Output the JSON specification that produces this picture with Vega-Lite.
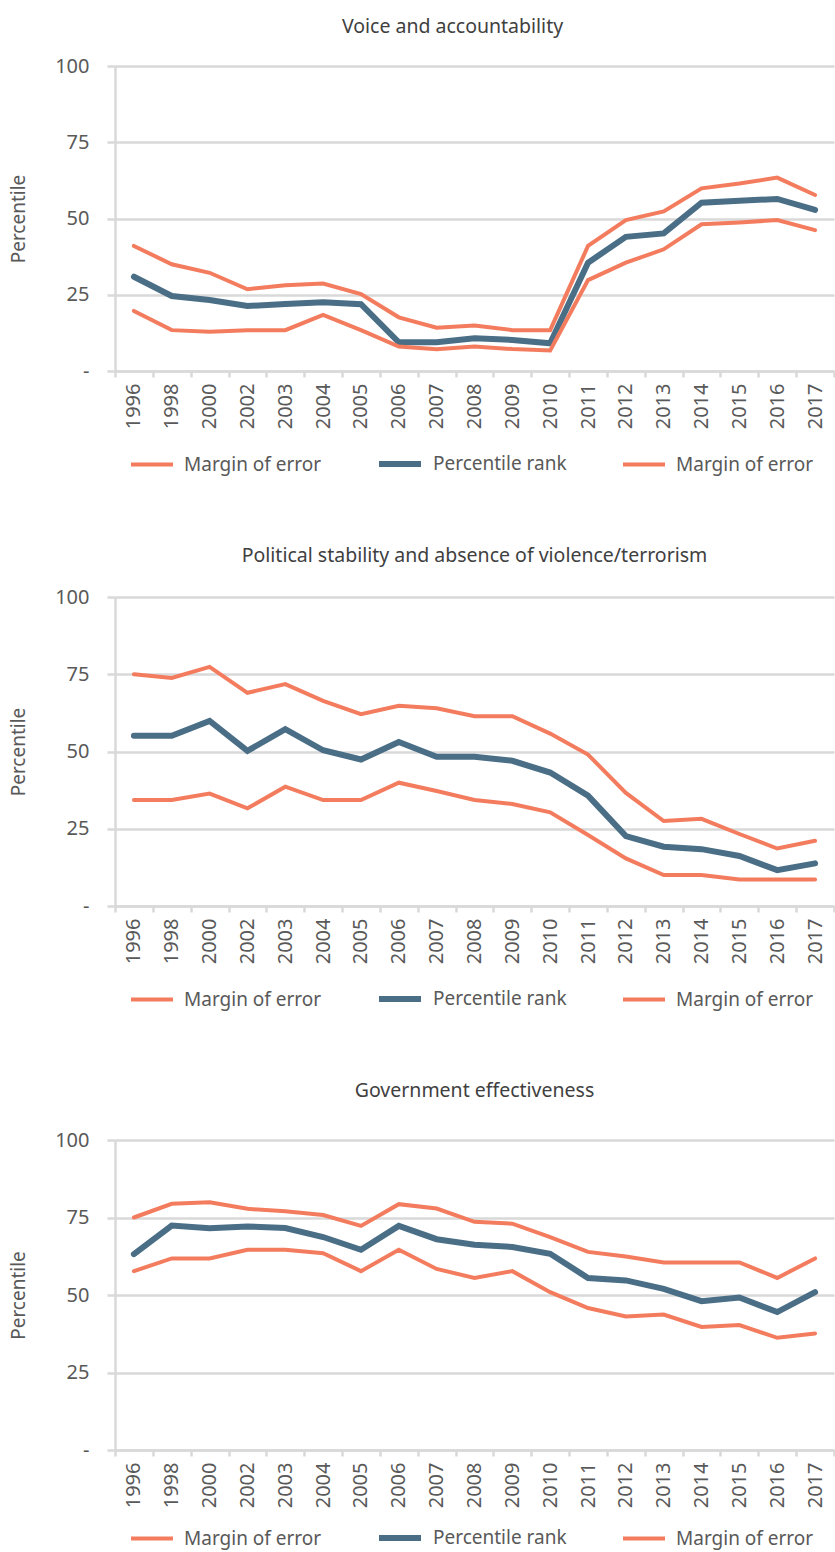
{
  "$schema": "https://vega.github.io/schema/vega-lite/v6.json",
  "padding": {"left": 9, "right": 0, "top": 16, "bottom": 0},
  "background": "white",
  "config": {
    "font": "Noto Sans",
    "view": {"stroke": null},
    "axis": {
      "domainColor": "#d9d9d9", "domainWidth": 2.5,
      "tickColor": "#d9d9d9", "tickWidth": 2.5,
      "gridColor": "#d9d9d9", "gridWidth": 2.5,
      "labelColor": "#595959", "labelFontSize": 20, "labelFont": "Noto Sans",
      "titleColor": "#595959", "titleFontSize": 19, "titleFontWeight": "normal", "titleFont": "Noto Sans"
    },
    "legend": {
      "orient": "bottom", "direction": "horizontal", "title": null,
      "symbolType": "stroke", "symbolSize": 1764, "symbolStrokeWidth": 6, "symbolOffset": 14,
      "labelFontSize": 19, "labelColor": "#595959", "labelFont": "Noto Sans",
      "labelOffset": 9, "columnPadding": 40, "padding": 0, "offset": 11
    },
    "title": {"fontSize": 19.5, "fontWeight": "normal", "color": "#404040", "font": "Noto Sans", "offset": 19, "anchor": "middle"}
  },
  "datasets": {
    "d": [
      {"panel":"A","year":"1996","hi":41.0,"rank":30.9,"lo":19.7},
      {"panel":"A","year":"1998","hi":35.0,"rank":24.6,"lo":13.4},
      {"panel":"A","year":"2000","hi":32.2,"rank":23.3,"lo":12.9},
      {"panel":"A","year":"2002","hi":26.8,"rank":21.3,"lo":13.4},
      {"panel":"A","year":"2003","hi":28.1,"rank":22.0,"lo":13.4},
      {"panel":"A","year":"2004","hi":28.7,"rank":22.5,"lo":18.4},
      {"panel":"A","year":"2005","hi":25.2,"rank":21.9,"lo":13.4},
      {"panel":"A","year":"2006","hi":17.6,"rank":9.4,"lo":8.0},
      {"panel":"A","year":"2007","hi":14.2,"rank":9.4,"lo":7.1},
      {"panel":"A","year":"2008","hi":14.9,"rank":10.7,"lo":8.0},
      {"panel":"A","year":"2009","hi":13.4,"rank":10.2,"lo":7.2},
      {"panel":"A","year":"2010","hi":13.4,"rank":9.1,"lo":6.7},
      {"panel":"A","year":"2011","hi":41.0,"rank":35.5,"lo":29.8},
      {"panel":"A","year":"2012","hi":49.5,"rank":44.0,"lo":35.5},
      {"panel":"A","year":"2013","hi":52.3,"rank":45.1,"lo":39.9},
      {"panel":"A","year":"2014","hi":59.9,"rank":55.2,"lo":48.1},
      {"panel":"A","year":"2015","hi":61.5,"rank":55.8,"lo":48.7},
      {"panel":"A","year":"2016","hi":63.4,"rank":56.4,"lo":49.5},
      {"panel":"A","year":"2017","hi":57.7,"rank":52.8,"lo":46.2},
      {"panel":"B","year":"1996","hi":75.0,"rank":55.1,"lo":34.3},
      {"panel":"B","year":"1998","hi":73.8,"rank":55.1,"lo":34.3},
      {"panel":"B","year":"2000","hi":77.4,"rank":59.9,"lo":36.4},
      {"panel":"B","year":"2002","hi":69.0,"rank":50.2,"lo":31.6},
      {"panel":"B","year":"2003","hi":71.8,"rank":57.2,"lo":38.6},
      {"panel":"B","year":"2004","hi":66.4,"rank":50.4,"lo":34.3},
      {"panel":"B","year":"2005","hi":62.1,"rank":47.4,"lo":34.3},
      {"panel":"B","year":"2006","hi":64.8,"rank":53.1,"lo":39.9},
      {"panel":"B","year":"2007","hi":64.0,"rank":48.3,"lo":37.2},
      {"panel":"B","year":"2008","hi":61.4,"rank":48.3,"lo":34.3},
      {"panel":"B","year":"2009","hi":61.4,"rank":47.0,"lo":33.0},
      {"panel":"B","year":"2010","hi":55.8,"rank":43.2,"lo":30.3},
      {"panel":"B","year":"2011","hi":49.0,"rank":35.7,"lo":23.0},
      {"panel":"B","year":"2012","hi":36.6,"rank":22.6,"lo":15.4},
      {"panel":"B","year":"2013","hi":27.5,"rank":19.2,"lo":10.0},
      {"panel":"B","year":"2014","hi":28.2,"rank":18.4,"lo":10.0},
      {"panel":"B","year":"2015","hi":23.3,"rank":16.2,"lo":8.6},
      {"panel":"B","year":"2016","hi":18.6,"rank":11.6,"lo":8.6},
      {"panel":"B","year":"2017","hi":21.1,"rank":13.8,"lo":8.6},
      {"panel":"C","year":"1996","hi":75.0,"rank":63.2,"lo":57.7},
      {"panel":"C","year":"1998","hi":79.4,"rank":72.4,"lo":61.8},
      {"panel":"C","year":"2000","hi":79.9,"rank":71.5,"lo":61.8},
      {"panel":"C","year":"2002","hi":77.8,"rank":72.1,"lo":64.6},
      {"panel":"C","year":"2003","hi":77.0,"rank":71.6,"lo":64.6},
      {"panel":"C","year":"2004","hi":75.8,"rank":68.7,"lo":63.5},
      {"panel":"C","year":"2005","hi":72.3,"rank":64.6,"lo":57.7},
      {"panel":"C","year":"2006","hi":79.3,"rank":72.3,"lo":64.6},
      {"panel":"C","year":"2007","hi":77.9,"rank":68.0,"lo":58.4},
      {"panel":"C","year":"2008","hi":73.6,"rank":66.2,"lo":55.5},
      {"panel":"C","year":"2009","hi":73.0,"rank":65.5,"lo":57.7},
      {"panel":"C","year":"2010","hi":68.7,"rank":63.3,"lo":50.9},
      {"panel":"C","year":"2011","hi":63.9,"rank":55.5,"lo":45.8},
      {"panel":"C","year":"2012","hi":62.4,"rank":54.7,"lo":43.1},
      {"panel":"C","year":"2013","hi":60.5,"rank":52.0,"lo":43.7},
      {"panel":"C","year":"2014","hi":60.5,"rank":48.0,"lo":39.7},
      {"panel":"C","year":"2015","hi":60.5,"rank":49.2,"lo":40.3},
      {"panel":"C","year":"2016","hi":55.5,"rank":44.5,"lo":36.2},
      {"panel":"C","year":"2017","hi":61.8,"rank":50.9,"lo":37.6}
    ]
  },
  "spacing": 69,
  "resolve": {"scale": {"color": "independent", "strokeWidth": "independent"}, "legend": {"color": "independent"}},
  "vconcat": [
    {
      "title": {"text": "Voice and accountability", "dx": -22},
      "width": 719, "height": 305,
      "data": {"name": "d"},
      "transform": [{"filter": "datum.panel === 'A'"}, {"fold": ["hi", "rank", "lo"], "as": ["series", "value"]}],
      "mark": {"type": "line", "strokeCap": "round"},
      "encoding": {
        "x": {"field": "year", "type": "ordinal", "scale": {"type": "band", "paddingInner": 0, "paddingOuter": 0},
              "axis": {"title": null, "labelAngle": 270, "labelAlign": "right", "labelBaseline": "middle", "tickBand": "extent", "tickSize": 6, "labelPadding": 6, "grid": false}},
        "y": {"field": "value", "type": "quantitative", "scale": {"domain": [0, 100], "nice": false},
              "axis": {"title": "Percentile", "values": [0, 25, 50, 75, 100], "labelExpr": "datum.value === 0 ? '-' : datum.label", "tickSize": 8, "labelPadding": 18, "titlePadding": 26, "grid": true}},
        "color": {"field": "series", "type": "nominal", "scale": {"domain": ["hi", "rank", "lo"], "range": ["#F47C5E", "#4A6E86", "#F47C5E"]},
                  "legend": {"labelExpr": "datum.value === 'rank' ? 'Percentile rank' : 'Margin of error'"}},
        "strokeWidth": {"field": "series", "type": "nominal", "scale": {"type": "ordinal", "domain": ["hi", "rank", "lo"], "range": [4, 6, 4]}, "legend": null}
      }
    },
    {
      "title": {"text": "Political stability and absence of violence/terrorism", "offset": 21},
      "width": 719, "height": 309,
      "data": {"name": "d"},
      "transform": [{"filter": "datum.panel === 'B'"}, {"fold": ["hi", "rank", "lo"], "as": ["series", "value"]}],
      "mark": {"type": "line", "strokeCap": "round"},
      "encoding": {
        "x": {"field": "year", "type": "ordinal", "scale": {"type": "band", "paddingInner": 0, "paddingOuter": 0},
              "axis": {"title": null, "labelAngle": 270, "labelAlign": "right", "labelBaseline": "middle", "tickBand": "extent", "tickSize": 6, "labelPadding": 6, "grid": false}},
        "y": {"field": "value", "type": "quantitative", "scale": {"domain": [0, 100], "nice": false},
              "axis": {"title": "Percentile", "values": [0, 25, 50, 75, 100], "labelExpr": "datum.value === 0 ? '-' : datum.label", "tickSize": 8, "labelPadding": 18, "titlePadding": 26, "grid": true}},
        "color": {"field": "series", "type": "nominal", "scale": {"domain": ["hi", "rank", "lo"], "range": ["#F47C5E", "#4A6E86", "#F47C5E"]},
                  "legend": {"labelExpr": "datum.value === 'rank' ? 'Percentile rank' : 'Margin of error'"}},
        "strokeWidth": {"field": "series", "type": "nominal", "scale": {"type": "ordinal", "domain": ["hi", "rank", "lo"], "range": [4, 6, 4]}, "legend": null}
      }
    },
    {
      "title": {"text": "Government effectiveness", "offset": 29},
      "width": 719, "height": 310,
      "data": {"name": "d"},
      "transform": [{"filter": "datum.panel === 'C'"}, {"fold": ["hi", "rank", "lo"], "as": ["series", "value"]}],
      "mark": {"type": "line", "strokeCap": "round"},
      "encoding": {
        "x": {"field": "year", "type": "ordinal", "scale": {"type": "band", "paddingInner": 0, "paddingOuter": 0},
              "axis": {"title": null, "labelAngle": 270, "labelAlign": "right", "labelBaseline": "middle", "tickBand": "extent", "tickSize": 6, "labelPadding": 6, "grid": false}},
        "y": {"field": "value", "type": "quantitative", "scale": {"domain": [0, 100], "nice": false},
              "axis": {"title": "Percentile", "values": [0, 25, 50, 75, 100], "labelExpr": "datum.value === 0 ? '-' : datum.label", "tickSize": 8, "labelPadding": 18, "titlePadding": 26, "grid": true}},
        "color": {"field": "series", "type": "nominal", "scale": {"domain": ["hi", "rank", "lo"], "range": ["#F47C5E", "#4A6E86", "#F47C5E"]},
                  "legend": {"labelExpr": "datum.value === 'rank' ? 'Percentile rank' : 'Margin of error'", "offset": 6}},
        "strokeWidth": {"field": "series", "type": "nominal", "scale": {"type": "ordinal", "domain": ["hi", "rank", "lo"], "range": [4, 6, 4]}, "legend": null}
      }
    }
  ]
}
